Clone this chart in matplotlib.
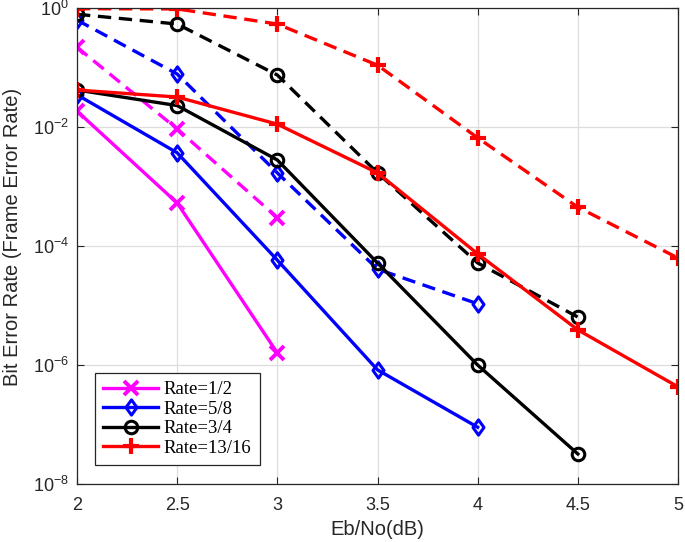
import numpy as np
import matplotlib
matplotlib.use('Agg')
import matplotlib.pyplot as plt
from matplotlib.path import Path

# Eb/No (dB) 取值
ebno = [2.0, 2.5, 3.0, 3.5, 4.0, 4.5, 5.0]

# 实线: BER, 虚线: FER
ber_12 = [1.86e-2, 5.3e-4, 1.6e-6]
fer_12 = [0.22, 9.3e-3, 3.0e-4]

ber_58 = [3.5e-2, 3.7e-3, 5.8e-5, 8.3e-7, 9.0e-8]
fer_58 = [0.63, 0.078, 1.7e-3, 4.1e-5, 1.07e-5]

ber_34 = [4.2e-2, 2.3e-2, 2.8e-3, 5.2e-5, 1.0e-6, 3.2e-8]
fer_34 = [0.79, 0.54, 0.075, 1.7e-3, 5.2e-5, 6.4e-6]

ber_1316 = [4.2e-2, 3.2e-2, 1.12e-2, 1.7e-3, 7.4e-5, 3.9e-6, 4.3e-7]
fer_1316 = [0.98, 0.97, 0.54, 0.11, 6.6e-3, 4.5e-4, 6.3e-5]

labels = ['Rate=1/2', 'Rate=5/8', 'Rate=3/4', 'Rate=13/16']
colors = ['#ff00ff', '#0000ff', '#000000', '#ff0000']

# MATLAB 风格的菱形标记
diamond = Path([(0, 1), (0.72, 0), (0, -1), (-0.72, 0), (0, 1)],
               [Path.MOVETO, Path.LINETO, Path.LINETO, Path.LINETO, Path.CLOSEPOLY])
markers = ['x', diamond, 'o', '+']
msizes = [10, 11, 9, 12]
mews = [2.8, 2.2, 2.2, 3.0]

ber_all = [ber_12, ber_58, ber_34, ber_1316]
fer_all = [fer_12, fer_58, fer_34, fer_1316]

fig = plt.figure(figsize=(6.85, 5.42), dpi=100)
ax = fig.add_axes([0.1124, 0.107, 0.8774, 0.878])

handles = []
for ber, fer, c, m, ms, mew, lab in zip(ber_all, fer_all, colors, markers,
                                        msizes, mews, labels):
    ax.plot(ebno[:len(fer)], fer, '--', color=c, lw=2.4, marker=m, ms=ms,
            mfc='none', mew=mew, dashes=(4, 2.3))
    h, = ax.plot(ebno[:len(ber)], ber, '-', color=c, lw=2.4, marker=m, ms=ms,
                 mfc='none', mew=mew, label=lab)
    handles.append(h)

ax.set_yscale('log')
ax.set_xlim(2, 5)
ax.set_ylim(1e-8, 1)
ax.set_xticks([2, 2.5, 3, 3.5, 4, 4.5, 5])
ax.set_xticklabels(['2', '2.5', '3', '3.5', '4', '4.5', '5'])
ax.set_yticks([1e-8, 1e-6, 1e-4, 1e-2, 1e0])
ax.yaxis.set_minor_locator(matplotlib.ticker.NullLocator())
ax.grid(True, color='#dddddd', lw=0.9)
ax.set_axisbelow(True)
ax.tick_params(direction='in', top=True, right=True, length=5,
               colors='#262626', labelsize=13)
ax.tick_params(axis='x', pad=9)
ax.tick_params(axis='y', pad=6)
for t in ax.get_xticklabels() + ax.get_yticklabels():
    t.set_family('Liberation Sans')
for s in ax.spines.values():
    s.set_color('#262626')
    s.set_linewidth(0.9)

ax.set_xlabel('Eb/No(dB)', fontsize=14.5, family='Liberation Sans', color='#262626')
ax.set_ylabel('Bit Error Rate (Frame Error Rate)', fontsize=14.5,
              family='Liberation Sans', color='#262626')
ax.xaxis.set_label_coords(0.5, -0.076)
ax.yaxis.set_label_coords(-0.092, 0.52)

leg = ax.legend(handles=handles, loc='lower left', bbox_to_anchor=(0.03, 0.04),
                borderaxespad=0,
                prop={'family': 'Liberation Serif', 'size': 13.5},
                fancybox=False, edgecolor='#262626', framealpha=1,
                handlelength=2.9, borderpad=0.45, labelspacing=0.12,
                handletextpad=0.3)
leg.get_frame().set_linewidth(0.9)

fig.savefig('out.png', dpi=100)
